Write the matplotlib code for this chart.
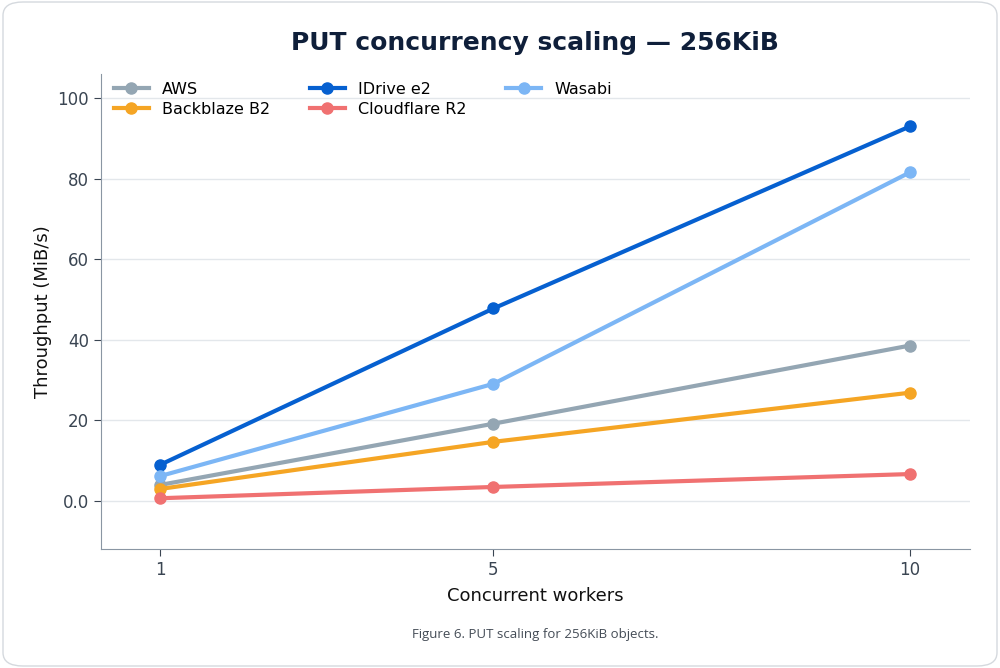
import matplotlib.pyplot as plt
from matplotlib.patches import FancyBboxPatch
from matplotlib.ticker import FuncFormatter

workers = [1, 5, 10]
aws = [4.0, 19.2, 38.6]
backblaze = [3.0, 14.7, 26.9]
idrive = [9.0, 47.8, 93.0]
cloudflare = [0.7, 3.5, 6.7]
wasabi = [6.2, 29.1, 81.6]

series = [
    ("AWS", aws, "#94a6b3"),
    ("Backblaze B2", backblaze, "#f5a524"),
    ("IDrive e2", idrive, "#0660d0"),
    ("Cloudflare R2", cloudflare, "#f07171"),
    ("Wasabi", wasabi, "#7cb6f5"),
]

fig = plt.figure(figsize=(10, 6.68), dpi=100)
fig.patch.set_facecolor("white")
card = FancyBboxPatch((0.003, 0.003), 0.994, 0.994, boxstyle="round,pad=0,rounding_size=0.02",
                      transform=fig.transFigure, facecolor="white", edgecolor="#d5d9de", lw=1,
                      zorder=-10)
fig.patches.append(card)

ax = fig.add_axes([0.101, 1 - 549 / 668, 0.869, 475 / 668])
ax.set_facecolor("none")
for name, vals, col in series:
    ax.plot(workers, vals, color=col, lw=3, marker="o", markersize=8, label=name)

ax.set_xlim(0.29, 10.72)
ax.set_ylim(-11.9, 106)
ax.set_xticks(workers)
ax.set_yticks([0, 20, 40, 60, 80, 100])
ax.yaxis.set_major_formatter(FuncFormatter(lambda v, p: "0.0" if v == 0 else f"{v:.0f}"))
ax.grid(axis="y", color="#e3e7eb", lw=1)
ax.set_axisbelow(True)
for s in ["top", "right"]:
    ax.spines[s].set_visible(False)
for s in ["left", "bottom"]:
    ax.spines[s].set_color("#8a96a3")
ax.tick_params(colors="#3a4552", labelsize=12, length=5)
ax.set_xlabel("Concurrent workers", fontsize=13, color="#111111", labelpad=6)
ax.set_ylabel("Throughput (MiB/s)", fontsize=13, color="#111111")
ax.legend(ncol=3, loc="upper left", frameon=False, fontsize=11.5, handlelength=2.2,
          columnspacing=2.5, labelspacing=0.3, borderaxespad=0.4, bbox_to_anchor=(0.0, 1.01))

fig.text(0.535, 0.935, "PUT concurrency scaling — 256KiB", ha="center", va="center",
         fontsize=18, fontweight="bold", color="#0f1f3a")
fig.text(0.535, 0.05, "Figure 6. PUT scaling for 256KiB objects.", ha="center", va="center",
         fontsize=9.5, color="#444c56", family="Open Sans")

fig.savefig("out.png", dpi=100, facecolor="white")
